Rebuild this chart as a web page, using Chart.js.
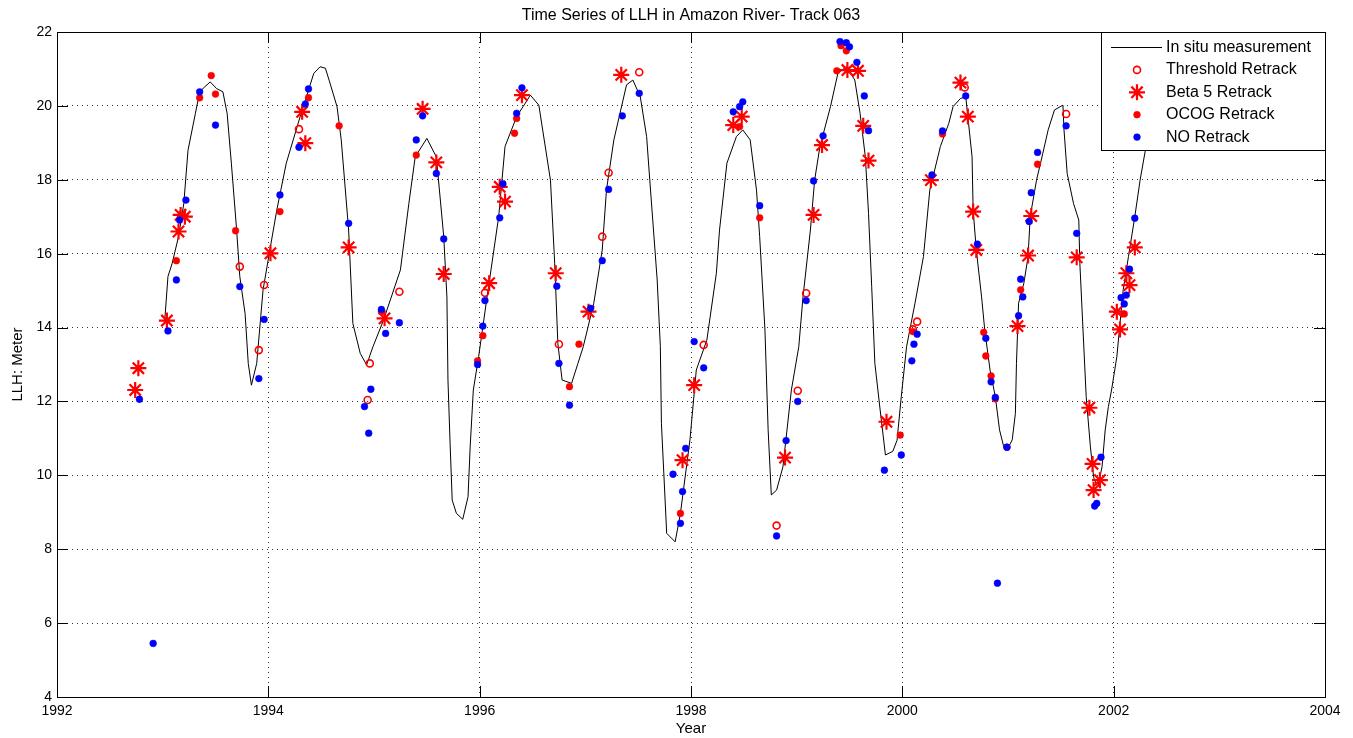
<!DOCTYPE html>
<html>
<head>
<meta charset="utf-8">
<title>Time Series of LLH in Amazon River- Track 063</title>
<script src="https://cdn.jsdelivr.net/npm/chart.js@4.4.1/dist/chart.umd.min.js"></script>
<style>
  html, body { margin: 0; padding: 0; background: #fff; }
  #chart { display: block; }
</style>
</head>
<body>
<canvas id="chart" width="1353" height="738"></canvas>
<script>
// [year, level in metres]
const inSitu = [
  [1993.02, 14.20], [1993.05, 15.38], [1993.09, 15.74], [1993.15, 16.46], [1993.20, 17.36], [1993.24, 18.80],
  [1993.31, 19.80], [1993.35, 20.38], [1993.40, 20.52], [1993.45, 20.65], [1993.51, 20.47], [1993.57, 20.38],
  [1993.61, 19.80], [1993.65, 18.45], [1993.70, 16.64], [1993.73, 15.38], [1993.78, 14.38], [1993.81, 13.03],
  [1993.84, 12.44], [1993.89, 13.03], [1993.95, 15.02], [1994.02, 16.19], [1994.08, 17.18], [1994.17, 18.45],
  [1994.30, 19.70], [1994.43, 20.88], [1994.49, 21.06], [1994.54, 21.02], [1994.58, 20.65], [1994.65, 19.98],
  [1994.69, 19.08], [1994.76, 16.64], [1994.80, 14.11], [1994.87, 13.30], [1994.93, 12.99], [1994.99, 13.48],
  [1995.09, 14.20], [1995.25, 15.56], [1995.33, 17.36], [1995.39, 18.62], [1995.50, 19.12], [1995.59, 18.62],
  [1995.66, 16.46], [1995.69, 14.83], [1995.70, 12.58], [1995.72, 10.87], [1995.74, 9.33], [1995.78, 8.97],
  [1995.84, 8.81], [1995.89, 9.42], [1995.91, 10.77], [1995.94, 12.31], [1995.99, 13.21], [1996.07, 14.83],
  [1996.18, 17.00], [1996.24, 18.90], [1996.35, 19.71], [1996.48, 20.29], [1996.56, 20.02], [1996.67, 17.99],
  [1996.71, 15.74], [1996.74, 13.57], [1996.78, 12.58], [1996.87, 12.49], [1996.93, 13.03], [1996.98, 13.48],
  [1997.08, 14.66], [1997.16, 16.10], [1997.20, 17.72], [1997.27, 19.08], [1997.39, 20.57], [1997.45, 20.70],
  [1997.52, 20.25], [1997.58, 19.17], [1997.61, 17.99], [1997.68, 15.29], [1997.71, 13.48], [1997.72, 11.41],
  [1997.77, 8.43], [1997.85, 8.20], [1997.90, 8.97], [1997.99, 10.96], [1998.05, 12.85], [1998.15, 13.66],
  [1998.24, 15.47], [1998.27, 16.64], [1998.34, 18.45], [1998.43, 19.17], [1998.49, 19.35], [1998.56, 19.08],
  [1998.62, 17.72], [1998.65, 16.46], [1998.70, 13.93], [1998.73, 11.23], [1998.76, 9.47], [1998.81, 9.60],
  [1998.87, 10.23], [1998.95, 12.31], [1999.02, 13.48], [1999.06, 14.83], [1999.13, 16.64], [1999.17, 17.99],
  [1999.22, 18.90], [1999.32, 19.98], [1999.39, 20.88], [1999.47, 21.06], [1999.55, 20.70], [1999.60, 19.80],
  [1999.65, 18.62], [1999.68, 17.09], [1999.71, 15.11], [1999.74, 13.03], [1999.79, 11.77], [1999.84, 10.55],
  [1999.91, 10.65], [1999.95, 10.95], [1999.99, 12.13], [2000.04, 13.48], [2000.12, 14.66], [2000.20, 15.92],
  [2000.26, 17.72], [2000.36, 18.90], [2000.44, 19.53], [2000.48, 19.98], [2000.55, 20.20], [2000.60, 20.25],
  [2000.62, 19.71], [2000.66, 18.62], [2000.67, 17.18], [2000.70, 16.10], [2000.75, 14.83], [2000.78, 13.93],
  [2000.83, 12.85], [2000.88, 12.13], [2000.92, 11.23], [2000.96, 10.77], [2000.99, 10.68], [2001.04, 10.96],
  [2001.07, 11.68], [2001.08, 13.03], [2001.10, 14.66], [2001.15, 15.20], [2001.19, 15.92], [2001.21, 17.00],
  [2001.27, 17.99], [2001.33, 18.72], [2001.38, 19.35], [2001.44, 19.89], [2001.52, 20.02], [2001.53, 19.35],
  [2001.56, 18.17], [2001.62, 17.36], [2001.67, 16.91], [2001.68, 15.74], [2001.71, 13.93], [2001.74, 12.13],
  [2001.78, 10.77], [2001.81, 9.96], [2001.82, 9.87], [2001.85, 9.69], [2001.89, 10.23], [2001.92, 11.23],
  [2001.95, 11.86], [2001.98, 12.31], [2002.03, 13.21], [2002.09, 15.02], [2002.14, 15.92], [2002.20, 17.00],
  [2002.25, 17.99], [2002.30, 18.80], [2002.36, 19.80], [2002.44, 20.60]
];

const thresholdRetrack = [
  [1993.73, 15.65], [1993.91, 13.39], [1993.96, 15.15], [1994.29, 19.37], [1994.94, 12.04], [1994.96, 13.03],
  [1995.24, 14.97], [1996.05, 14.94], [1996.75, 13.55], [1997.16, 16.46], [1997.22, 18.19], [1997.51, 20.91],
  [1998.12, 13.53], [1998.81, 8.64], [1999.01, 12.29], [1999.09, 14.93], [2000.10, 13.95], [2000.14, 14.16],
  [2000.59, 20.50], [2001.55, 19.78]
];

const beta5Retrack = [
  [1992.74, 12.31], [1992.77, 12.90], [1993.04, 14.19], [1993.15, 16.60], [1993.17, 17.05], [1993.21, 17.00],
  [1994.02, 16.01], [1994.32, 19.84], [1994.35, 18.99], [1994.76, 16.17], [1995.10, 14.25], [1995.46, 19.92],
  [1995.59, 18.47], [1995.66, 15.45], [1996.09, 15.20], [1996.19, 17.81], [1996.24, 17.41], [1996.40, 20.29],
  [1996.72, 15.47], [1997.03, 14.43], [1997.34, 20.84], [1997.92, 10.41], [1998.03, 12.44], [1998.40, 19.48],
  [1998.48, 19.71], [1998.89, 10.48], [1999.16, 17.05], [1999.24, 18.94], [1999.48, 20.97], [1999.58, 20.95],
  [1999.63, 19.46], [1999.68, 18.52], [1999.85, 11.45], [2000.27, 17.99], [2000.55, 20.63], [2000.62, 19.71],
  [2000.67, 17.14], [2000.70, 16.10], [2001.09, 14.04], [2001.19, 15.95], [2001.22, 17.02], [2001.65, 15.90],
  [2001.77, 11.83], [2001.80, 10.31], [2001.81, 9.60], [2001.87, 9.87], [2002.03, 14.43], [2002.06, 13.95],
  [2002.12, 15.47], [2002.15, 15.15], [2002.20, 16.17]
];

const ocogRetrack = [
  [1993.13, 15.81], [1993.35, 20.22], [1993.46, 20.82], [1993.50, 20.32], [1993.69, 16.62], [1994.11, 17.14],
  [1994.38, 20.22], [1994.67, 19.46], [1995.07, 14.43], [1995.40, 18.67], [1995.98, 13.10], [1996.03, 13.78],
  [1996.33, 19.26], [1996.35, 19.66], [1996.85, 12.40], [1996.94, 13.55], [1997.90, 8.97], [1998.46, 19.44],
  [1998.65, 16.97], [1999.38, 20.95], [1999.42, 21.63], [1999.47, 21.49], [1999.98, 11.09], [2000.10, 13.89],
  [2000.38, 19.24], [2000.77, 13.87], [2000.79, 13.23], [2000.84, 12.69], [2000.88, 12.07], [2000.99, 10.76],
  [2001.12, 15.02], [2001.28, 18.42], [2002.10, 14.37]
];

const noRetrack = [
  [1992.78, 12.06], [1992.91, 5.45], [1993.05, 13.91], [1993.13, 15.29], [1993.16, 16.91], [1993.22, 17.45],
  [1993.35, 20.38], [1993.50, 19.48], [1993.73, 15.11], [1993.91, 12.62], [1993.96, 14.22], [1994.11, 17.59],
  [1994.29, 18.88], [1994.35, 20.05], [1994.38, 20.46], [1994.76, 16.82], [1994.91, 11.86], [1994.95, 11.14],
  [1994.97, 12.33], [1995.07, 14.49], [1995.11, 13.84], [1995.24, 14.13], [1995.40, 19.08], [1995.46, 19.73],
  [1995.59, 18.17], [1995.66, 16.40], [1995.98, 13.00], [1996.03, 14.04], [1996.05, 14.73], [1996.19, 16.97],
  [1996.22, 17.89], [1996.35, 19.80], [1996.40, 20.49], [1996.73, 15.12], [1996.75, 13.03], [1996.85, 11.90],
  [1997.05, 14.52], [1997.16, 15.81], [1997.22, 17.74], [1997.35, 19.73], [1997.51, 20.34], [1997.83, 10.03],
  [1997.90, 8.70], [1997.92, 9.56], [1997.95, 10.73], [1998.03, 13.62], [1998.12, 12.91], [1998.40, 19.84],
  [1998.46, 19.98], [1998.49, 20.11], [1998.65, 17.30], [1998.81, 8.36], [1998.90, 10.94], [1999.01, 12.00],
  [1999.09, 14.73], [1999.16, 17.97], [1999.25, 19.19], [1999.41, 21.74], [1999.47, 21.71], [1999.50, 21.60],
  [1999.57, 21.18], [1999.64, 20.27], [1999.68, 19.33], [1999.83, 10.14], [1999.99, 10.55], [2000.09, 13.10],
  [2000.11, 13.55], [2000.14, 13.82], [2000.28, 18.13], [2000.38, 19.32], [2000.60, 20.27], [2000.71, 16.26],
  [2000.79, 13.71], [2000.84, 12.53], [2000.88, 12.11], [2000.90, 7.08], [2000.99, 10.76], [2001.10, 14.32],
  [2001.12, 15.31], [2001.14, 14.83], [2001.20, 16.87], [2001.22, 17.65], [2001.28, 18.74], [2001.55, 19.46],
  [2001.65, 16.55], [2001.82, 9.17], [2001.84, 9.24], [2001.88, 10.49], [2002.07, 14.81], [2002.10, 14.64],
  [2002.12, 14.88], [2002.15, 15.58], [2002.20, 16.96]
];

const yearTicks = [1992, 1994, 1996, 1998, 2000, 2002, 2004];
const levelTicks = [4, 6, 8, 10, 12, 14, 16, 18, 20, 22];

const FONT = '"Liberation Sans", Arial, Helvetica, sans-serif';
const toXY = rows => rows.map(r => ({ x: r[0], y: r[1] }));

// matlab style box: frame + inward tick marks on all four sides, then the legend on top
const matlabAxes = {
  id: 'matlabAxes',
  afterDraw(chart) {
    const { ctx, chartArea: a, scales: { x, y } } = chart;
    const len = 11;
    ctx.save();
    ctx.strokeStyle = '#000';
    ctx.lineWidth = 1;
    ctx.beginPath();
    yearTicks.forEach(v => {
      const px = Math.round(x.getPixelForValue(v)) + 0.5;
      ctx.moveTo(px, a.bottom); ctx.lineTo(px, a.bottom - len);
      ctx.moveTo(px, a.top); ctx.lineTo(px, a.top + len);
    });
    levelTicks.forEach(v => {
      const py = Math.round(y.getPixelForValue(v)) + 0.5;
      ctx.moveTo(a.left, py); ctx.lineTo(a.left + len, py);
      ctx.moveTo(a.right, py); ctx.lineTo(a.right - len, py);
    });
    ctx.stroke();
    ctx.strokeRect(Math.round(a.left) + 0.5, Math.round(a.top) + 0.5,
                   Math.round(a.right - a.left), Math.round(a.bottom - a.top));

    // legend box
    const w = 224, h = 118;
    const left = Math.round(a.right) - w, top = Math.round(a.top);
    ctx.fillStyle = '#fff';
    ctx.fillRect(left, top, w, h);
    ctx.strokeRect(left + 0.5, top + 0.5, w, h);
    ctx.font = '16px ' + FONT;
    ctx.textBaseline = 'middle';
    ctx.textAlign = 'left';
    chart.data.datasets.forEach((ds, i) => {
      const rowY = top + 15.5 + i * 22.4;
      if (ds.showLine) {
        ctx.beginPath();
        ctx.strokeStyle = ds.borderColor;
        ctx.lineWidth = ds.borderWidth;
        ctx.moveTo(left + 10, rowY);
        ctx.lineTo(left + 61, rowY);
        ctx.stroke();
      } else {
        ctx.fillStyle = ds.backgroundColor;
        ctx.strokeStyle = ds.borderColor;
        ctx.lineWidth = ds.borderWidth;
        Chart.helpers.drawPoint(ctx, {
          pointStyle: ds.pointStyle, radius: ds.pointRadius,
          borderWidth: ds.borderWidth, rotation: 0
        }, left + 36, rowY);
      }
      ctx.fillStyle = '#000';
      ctx.fillText(ds.label, left + 65, rowY);
    });
    ctx.restore();
  }
};

Chart.defaults.font.family = FONT;
Chart.defaults.color = '#000';

new Chart(document.getElementById('chart'), {
  type: 'scatter',
  data: {
    datasets: [
      {
        label: 'In situ measurement',
        data: toXY(inSitu),
        showLine: true,
        borderColor: '#000',
        backgroundColor: '#000',
        borderWidth: 1,
        pointRadius: 0,
        tension: 0,
        order: 4
      },
      {
        label: 'Threshold Retrack',
        data: toXY(thresholdRetrack),
        pointStyle: 'circle',
        pointRadius: 3.5,
        borderColor: '#ff0000',
        backgroundColor: 'rgba(0,0,0,0)',
        borderWidth: 1.6,
        order: 3
      },
      {
        label: 'Beta 5 Retrack',
        data: toXY(beta5Retrack),
        pointStyle: 'star',
        pointRadius: 8,
        borderColor: '#ff0000',
        backgroundColor: '#ff0000',
        borderWidth: 2.2,
        order: 2
      },
      {
        label: 'OCOG Retrack',
        data: toXY(ocogRetrack),
        pointStyle: 'circle',
        pointRadius: 3.4,
        borderColor: '#ff0000',
        backgroundColor: '#ff0000',
        borderWidth: 0.5,
        order: 1
      },
      {
        label: 'NO Retrack',
        data: toXY(noRetrack),
        pointStyle: 'circle',
        pointRadius: 3.4,
        borderColor: '#0000ff',
        backgroundColor: '#0000ff',
        borderWidth: 0.5,
        order: 0
      }
    ]
  },
  options: {
    responsive: false,
    animation: false,
    events: [],
    layout: { padding: { left: 0, right: 28, top: 0, bottom: 0 } },
    plugins: {
      legend: { display: false },
      tooltip: { enabled: false },
      title: {
        display: true,
        fullSize: false,
        text: 'Time Series of LLH in Amazon River- Track 063',
        font: { size: 16, weight: 'normal' },
        padding: { top: 5.6, bottom: 7.2 }
      }
    },
    scales: {
      x: {
        type: 'linear',
        min: 1992,
        max: 2004,
        afterBuildTicks: s => { s.ticks = yearTicks.map(v => ({ value: v })); },
        afterFit: s => { s.height = 41; },
        ticks: { font: { size: 14 }, padding: 6, maxRotation: 0, callback: v => String(v) },
        grid: { color: '#333', lineWidth: 1, drawTicks: false },
        border: { display: false, dash: [1, 4] },
        title: { display: true, text: 'Year', font: { size: 15 }, padding: { top: 0, bottom: 0 } }
      },
      y: {
        type: 'linear',
        min: 4,
        max: 22,
        afterBuildTicks: s => { s.ticks = levelTicks.map(v => ({ value: v })); },
        afterFit: s => { s.width = 57; },
        ticks: { font: { size: 14 }, padding: 5 },
        grid: { color: '#333', lineWidth: 1, drawTicks: false },
        border: { display: false, dash: [1, 4] },
        title: { display: true, text: 'LLH: Meter', font: { size: 15 }, padding: { top: 9, bottom: 0 } }
      }
    }
  },
  plugins: [matlabAxes]
});
</script>
</body>
</html>
